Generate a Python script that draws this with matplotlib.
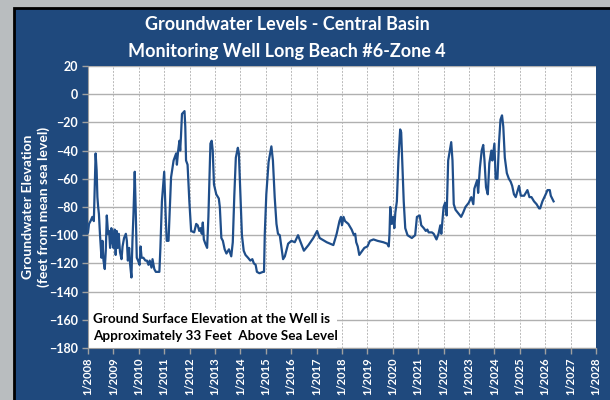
import matplotlib
matplotlib.use("Agg")
import matplotlib.pyplot as plt
from matplotlib.patches import Rectangle

# decimal year / groundwater elevation (ft msl)
years = [
    2008.00, 2008.04, 2008.10, 2008.17, 2008.23, 2008.30, 2008.34, 2008.37, 2008.40,
    2008.43, 2008.47, 2008.53, 2008.57, 2008.61, 2008.66, 2008.70, 2008.74, 2008.79,
    2008.83, 2008.87, 2008.92, 2008.96, 2009.00, 2009.05, 2009.09, 2009.13, 2009.17,
    2009.21, 2009.26, 2009.32, 2009.36, 2009.42, 2009.49, 2009.53, 2009.57, 2009.62,
    2009.66, 2009.71, 2009.75, 2009.79, 2009.84, 2009.88, 2009.92, 2009.97, 2010.03,
    2010.07, 2010.11, 2010.18, 2010.26, 2010.32, 2010.38, 2010.43, 2010.50, 2010.54,
    2010.61, 2010.67, 2010.75, 2010.81, 2010.85, 2010.91, 2011.00, 2011.06, 2011.10,
    2011.17, 2011.27, 2011.37, 2011.47, 2011.50, 2011.55, 2011.60, 2011.63, 2011.66,
    2011.70, 2011.80, 2011.83, 2011.86, 2011.92, 2011.99, 2012.06, 2012.18, 2012.26,
    2012.32, 2012.38, 2012.43, 2012.48, 2012.52, 2012.56, 2012.62, 2012.69, 2012.74,
    2012.82, 2012.87, 2012.91, 2012.96, 2013.05, 2013.15, 2013.19, 2013.25, 2013.31,
    2013.38, 2013.45, 2013.55, 2013.64, 2013.70, 2013.76, 2013.82, 2013.90, 2013.94,
    2014.00, 2014.06, 2014.13, 2014.20, 2014.30, 2014.39, 2014.47, 2014.53, 2014.60,
    2014.65, 2014.75, 2014.89, 2014.93, 2014.96, 2015.02, 2015.11, 2015.22, 2015.28,
    2015.35, 2015.42, 2015.48, 2015.55, 2015.68, 2015.75, 2015.88, 2016.01, 2016.14,
    2016.27, 2016.33, 2016.50, 2016.68, 2016.87, 2017.02, 2017.12, 2017.40, 2017.66,
    2017.79, 2017.90, 2017.96, 2018.00, 2018.06, 2018.12, 2018.25, 2018.38, 2018.47,
    2018.52, 2018.56, 2018.62, 2018.68, 2018.80, 2018.88, 2019.00, 2019.10, 2019.24,
    2019.40, 2019.63, 2019.78, 2019.84, 2019.87, 2019.90, 2019.96, 2020.02, 2020.06,
    2020.10, 2020.16, 2020.22, 2020.29, 2020.33, 2020.37, 2020.43, 2020.49, 2020.58,
    2020.75, 2020.88, 2020.95, 2021.06, 2021.12, 2021.22, 2021.30, 2021.36, 2021.41,
    2021.54, 2021.61, 2021.72, 2021.80, 2021.87, 2021.91, 2022.00, 2022.06, 2022.12,
    2022.18, 2022.30, 2022.35, 2022.40, 2022.47, 2022.60, 2022.69, 2022.77, 2022.86,
    2022.99, 2023.09, 2023.17, 2023.21, 2023.32, 2023.36, 2023.43, 2023.50, 2023.56,
    2023.61, 2023.67, 2023.74, 2023.80, 2023.88, 2023.92, 2024.00, 2024.05, 2024.12,
    2024.18, 2024.24, 2024.30, 2024.35, 2024.41, 2024.49, 2024.57, 2024.64, 2024.70,
    2024.77, 2024.84, 2024.97, 2025.04, 2025.17, 2025.30, 2025.38, 2025.46, 2025.56,
    2025.66, 2025.76, 2025.80, 2025.89, 2026.02, 2026.09, 2026.18, 2026.22, 2026.33,
]
levels = [
    -98, -92, -90, -87, -90, -42, -54, -73, -80,
    -85, -99, -116, -104, -118, -124, -111, -86, -99,
    -97, -109, -95, -105, -109, -96, -114, -97, -109,
    -99, -112, -117, -108, -102, -99, -104, -118, -109,
    -121, -130, -104, -85, -55, -83, -116, -118, -121,
    -108, -116, -116, -118, -118, -121, -118, -123, -117,
    -124, -126, -126, -126, -109, -76, -55, -87, -104,
    -104, -59, -47, -42, -50, -40, -33, -40, -30,
    -14, -12, -23, -47, -50, -76, -97, -98, -92,
    -93, -97, -95, -99, -91, -103, -106, -109, -87,
    -35, -33, -40, -64, -71, -74, -80, -102, -104,
    -110, -113, -110, -115, -105, -72, -45, -38, -42,
    -71, -100, -111, -114, -116, -118, -117, -120, -121,
    -126, -127, -126, -126, -99, -71, -48, -37, -47,
    -73, -92, -99, -100, -117, -115, -106, -104, -105,
    -100, -103, -111, -107, -102, -97, -102, -105, -107,
    -99, -90, -87, -93, -87, -90, -92, -96, -100,
    -99, -105, -108, -114, -111, -109, -108, -104, -103,
    -104, -105, -106, -108, -99, -80, -92, -87, -95,
    -84, -76, -47, -25, -27, -47, -76, -95, -100,
    -102, -100, -87, -86, -93, -95, -97, -96, -98,
    -98, -99, -103, -99, -93, -99, -80, -77, -86,
    -47, -34, -47, -78, -82, -85, -87, -84, -80,
    -77, -73, -78, -67, -61, -70, -52, -40, -36,
    -47, -66, -71, -49, -40, -47, -35, -60, -60,
    -35, -18, -15, -23, -45, -56, -60, -62, -65,
    -71, -73, -65, -72, -72, -68, -73, -73, -76,
    -78, -81, -81, -76, -71, -68, -68, -72, -76,
]

y_ticks = list(range(-180, 21, 20))
x_ticks = list(range(2008, 2029))
x_labels = ["1/%d" % y for y in x_ticks]

panel_blue = "#1f497d"
line_blue = "#1f4e8a"

fig = plt.figure(figsize=(6.1, 4.0), dpi=100)
fig.patch.set_facecolor("#b9bdbf")

# the blue chart panel, sitting on top of the map background
fig.patches.append(Rectangle((14 / 610, -0.01), 1.0, 1 - 8 / 400 + 0.01,
                             transform=fig.transFigure, facecolor=panel_blue,
                             edgecolor="black", linewidth=2, zorder=-1))

ax = fig.add_axes([88 / 610, 52 / 400, 508 / 610, 282 / 400])
ax.set_zorder(2)
ax.set_facecolor("white")
ax.set_axisbelow(True)

ax.plot(years, levels, color=line_blue, linewidth=1.6, zorder=3)

ax.set_xlim(2008, 2028)
ax.set_ylim(-180, 20)
ax.set_xticks(x_ticks)
ax.set_xticklabels(x_labels, rotation=90)
ax.set_yticks(y_ticks)

ax.grid(axis="y", color="#b0b0b0", linewidth=1.0, linestyle="-")
ax.grid(axis="x", color="#b8b8b8", linewidth=0.7, linestyle=(0, (2, 1.5)))

for side in ["top", "right"]:
    ax.spines[side].set_visible(False)
for side in ["left", "bottom"]:
    ax.spines[side].set_color("#a0a0a0")

ax.tick_params(colors="#a0a0a0", length=4, width=1, labelcolor="white", pad=3)
for lbl in ax.get_yticklabels():
    lbl.set_fontweight("bold")
    lbl.set_fontsize(9)
    lbl.set_family("Lato")
for lbl in ax.get_xticklabels():
    lbl.set_fontweight("bold")
    lbl.set_fontsize(8)
    lbl.set_family("Lato")

# white box behind the note hides the gridlines
ax.add_patch(Rectangle((2008, -180), 9.8, 27, facecolor="white",
                       edgecolor="none", zorder=1))
ax.text(2008.2, -165.5,
        "Ground Surface Elevation at the Well is\nApproximately 33 Feet  Above Sea Level",
        fontsize=9.7, fontweight="bold", family="Lato", color="black",
        va="center", ha="left", linespacing=1.5, zorder=2)

fig.text(287 / 610, 1 - 25 / 400, "Groundwater Levels - Central Basin",
         ha="center", va="center", color="white", fontsize=13,
         fontweight="bold", family="Lato")
fig.text(287 / 610, 1 - 52 / 400, "Monitoring Well Long Beach #6-Zone 4",
         ha="center", va="center", color="white", fontsize=13,
         fontweight="bold", family="Lato")
fig.text(36 / 610, 1 - 207 / 400,
         "Groundwater Elevation\n(feet from mean sea level)",
         ha="center", va="center", rotation=90, color="white", fontsize=10,
         fontweight="bold", family="Lato", linespacing=1.3)

fig.savefig("out.png", dpi=100, facecolor=fig.get_facecolor())
